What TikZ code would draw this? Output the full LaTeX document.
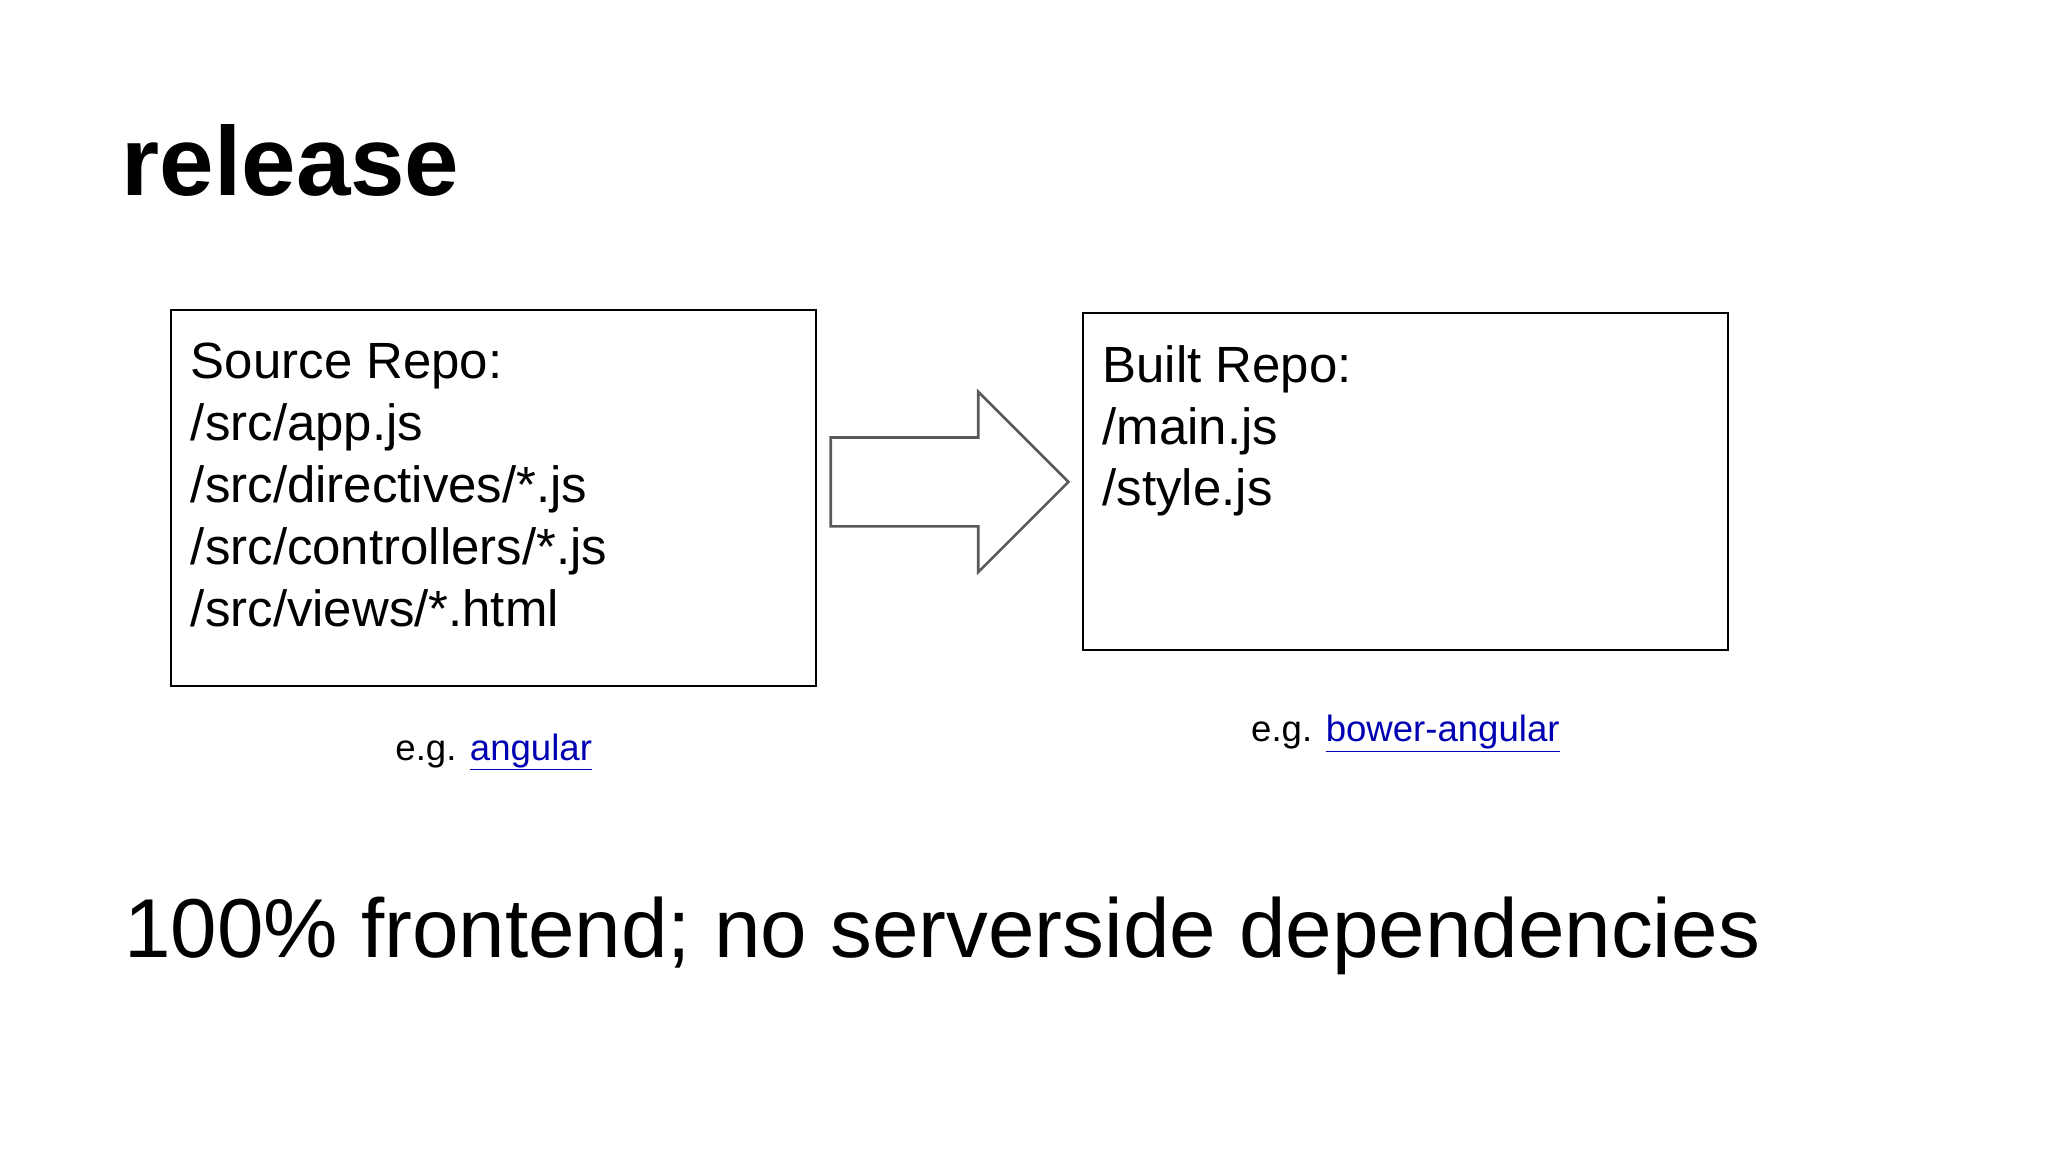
\documentclass[tikz,border=0pt]{standalone}
\usepackage{fontspec}
\setmainfont{Liberation Sans}
\begin{document}
\begin{tikzpicture}[x=1pt,y=-1pt,
  txt/.style={anchor=base west,inner sep=0pt,font=\fontsize{39}{47.5}\selectfont},
  box/.style={draw=black,line width=1.5pt},
  lnk/.style={text=blue!70!black}]
\useasboundingbox (0,0) rectangle (1568,882);
\fill[white] (0,0) rectangle (1568,882);
\node[anchor=base west,inner sep=0pt,font=\fontsize{75}{80}\selectfont\bfseries] (title) at (93,150) {release};
\draw[box] (131,237) rectangle (625,525);
\draw[box] (829,240) rectangle (1323,498);
\node[txt,align=left] (src) at (146,290) {Source Repo:};
\node[txt] (s2) at (146,337) {/src/app.js};
\node[txt] (s3) at (146,385) {/src/directives/*.js};
\node[txt] (s4) at (146,432) {/src/controllers/*.js};
\node[txt] (s5) at (146,480) {/src/views/*.html};
\node[txt] (b1) at (844,293) {Built Repo:};
\node[txt] (b2) at (844,340) {/main.js};
\node[txt] (b3) at (844,387) {/style.js};
\draw[gray!70!black,line width=2pt,line join=miter]
  (636,335) -- (749,335) -- (749,300) -- (818,369) -- (749,438) -- (749,403) -- (636,403) -- cycle;
\node[anchor=base,inner sep=0pt,font=\fontsize{28}{30}\selectfont] (e1) at (378,582) {e.g. \textcolor{blue!70!black}{\underline{angular}}};
\node[anchor=base,inner sep=0pt,font=\fontsize{28}{30}\selectfont] (e2) at (1076,568) {e.g. \textcolor{blue!70!black}{\underline{bower-angular}}};
\node[anchor=base west,inner sep=0pt,font=\fontsize{64}{70}\selectfont] (foot) at (95,733) {100\% frontend; no serverside dependencies};
\end{tikzpicture}
\end{document}
